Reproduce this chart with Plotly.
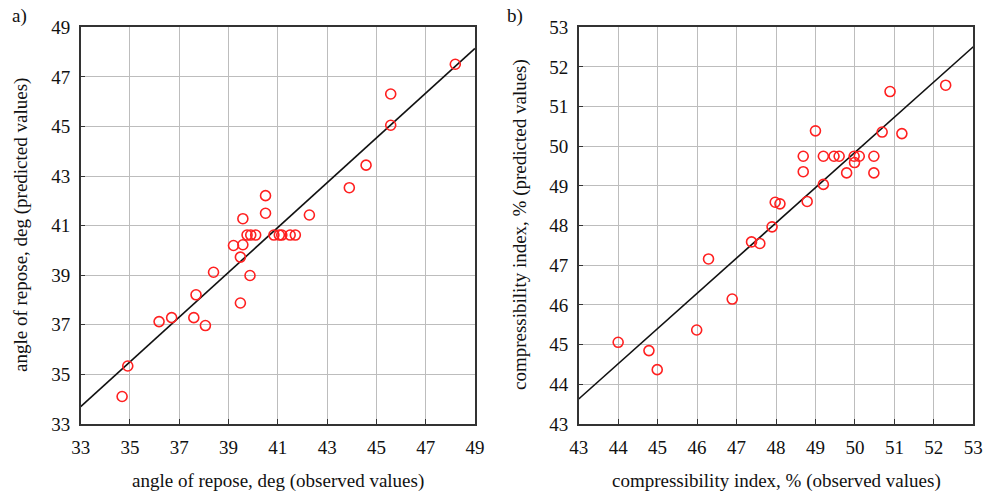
import numpy as np
import plotly.graph_objects as go

# ---- Panel a) angle of repose ----
a_observed = [48.2, 45.58, 45.58, 44.58, 43.9, 42.28, 40.5, 40.5, 39.58,
              39.75, 39.9, 40.1,
              40.84, 41.06, 41.16, 41.5, 41.71,
              39.2, 39.58, 39.48, 39.87, 39.48, 38.39, 37.68, 37.59, 38.06,
              36.69, 36.18, 34.91, 34.68]
a_predicted = [47.51, 46.31, 45.05, 43.44, 42.53, 41.43, 42.21, 41.5, 41.28,
               40.62, 40.62, 40.62,
               40.62, 40.62, 40.62, 40.62, 40.62,
               40.2, 40.23, 39.73, 38.99, 37.88, 39.12, 38.21, 37.29, 36.97,
               37.29, 37.13, 35.34, 34.11]
a_fit = {"intercept_at_min": 33.7, "slope": 0.903}
a_ticks = [33, 35, 37, 39, 41, 43, 45, 47, 49]

# ---- Panel b) compressibility index ----
b_observed = [52.3, 50.89, 51.19, 50.69, 49.0, 48.69, 48.69, 49.2, 49.47,
              49.6, 49.98, 50.11, 49.99, 49.79, 50.48, 50.48, 49.2, 48.79,
              47.98, 48.1, 47.9, 47.38, 47.59, 46.29, 46.89, 45.99, 44.0,
              44.78, 44.99]
b_predicted = [51.54, 51.38, 50.32, 50.36, 50.39, 49.75, 49.36, 49.75, 49.75,
               49.75, 49.75, 49.75, 49.59, 49.33, 49.75, 49.33, 49.04, 48.61,
               48.59, 48.55, 47.97, 47.59, 47.55, 47.16, 46.15, 45.37, 45.06,
               44.85, 44.37]
b_fit = {"intercept_at_min": 43.63, "slope": 0.888}
b_ticks = [43, 44, 45, 46, 47, 48, 49, 50, 51, 52, 53]

FONT = "Liberation Serif, Times New Roman, serif"
RED = "#ff2020"

fig = go.Figure()

def add_panel(obs, pred, fit, ticks, xa, ya):
    lo, hi = ticks[0], ticks[-1]
    lx = np.array([lo, hi], dtype=float)
    ly = fit["intercept_at_min"] + fit["slope"] * (lx - lo)
    fig.add_trace(go.Scatter(x=lx, y=ly, mode="lines",
                             line=dict(color="#111111", width=1.6),
                             xaxis=xa, yaxis=ya, showlegend=False,
                             hoverinfo="skip"))
    fig.add_trace(go.Scatter(x=obs, y=pred, mode="markers",
                             marker=dict(symbol="circle-open", size=10,
                                         color=RED, line=dict(width=1.6, color=RED)),
                             xaxis=xa, yaxis=ya, showlegend=False))

add_panel(a_observed, a_predicted, a_fit, a_ticks, "x", "y")
add_panel(b_observed, b_predicted, b_fit, b_ticks, "x2", "y2")

W, H = 984, 493
yd = [1 - 424 / H, 1 - 27.3 / H]

axis_common = dict(showgrid=True, gridcolor="#bdbdbd", gridwidth=1,
                   showline=True, linecolor="#333333", linewidth=1.5, mirror=True,
                   ticks="inside", ticklen=5, tickcolor="#333333",
                   tickfont=dict(family=FONT, size=19, color="#111111"),
                   zeroline=False, fixedrange=True, automargin=False)

fig.update_layout(
    width=W, height=H,
    margin=dict(l=0, r=0, t=0, b=0),
    paper_bgcolor="white", plot_bgcolor="white",
    xaxis=dict(domain=[80.7 / W, 475 / W], range=[a_ticks[0], a_ticks[-1]],
               tickvals=a_ticks, anchor="y", ticklabelstandoff=5, **axis_common),
    yaxis=dict(domain=yd, range=[a_ticks[0], a_ticks[-1]],
               tickvals=a_ticks, anchor="x", ticklabelstandoff=5, **axis_common),
    xaxis2=dict(domain=[578.7 / W, 973.3 / W], range=[b_ticks[0], b_ticks[-1]],
                tickvals=b_ticks, anchor="y2", ticklabelstandoff=5, **axis_common),
    yaxis2=dict(domain=yd, range=[b_ticks[0], b_ticks[-1]],
                tickvals=b_ticks, anchor="x2", ticklabelstandoff=5, **axis_common),
)

tfont = dict(family=FONT, size=19, color="#111111")
ann = [
    dict(text="a)", x=10 / W, y=1 - 16 / H, xanchor="left", yanchor="middle"),
    dict(text="b)", x=505 / W, y=1 - 16 / H, xanchor="left", yanchor="middle"),
    dict(text="angle of repose, deg (observed values)", x=277.5 / W, y=1 - 481 / H,
         xanchor="center", yanchor="middle"),
    dict(text="compressibility index, % (observed values)", x=776 / W, y=1 - 481 / H,
         xanchor="center", yanchor="middle"),
    dict(text="angle of repose, deg (predicted values)", x=21 / W, y=1 - 225 / H,
         xanchor="center", yanchor="middle", textangle=-90),
    dict(text="compressibility index, % (predicted values)", x=520 / W, y=1 - 225 / H,
         xanchor="center", yanchor="middle", textangle=-90),
]
for a in ann:
    fig.add_annotation(xref="paper", yref="paper", showarrow=False, font=tfont, **a)

fig.write_html("out.html", config={"displayModeBar": False},
               post_script="document.body.style.margin='0';document.body.style.overflow='hidden';")
